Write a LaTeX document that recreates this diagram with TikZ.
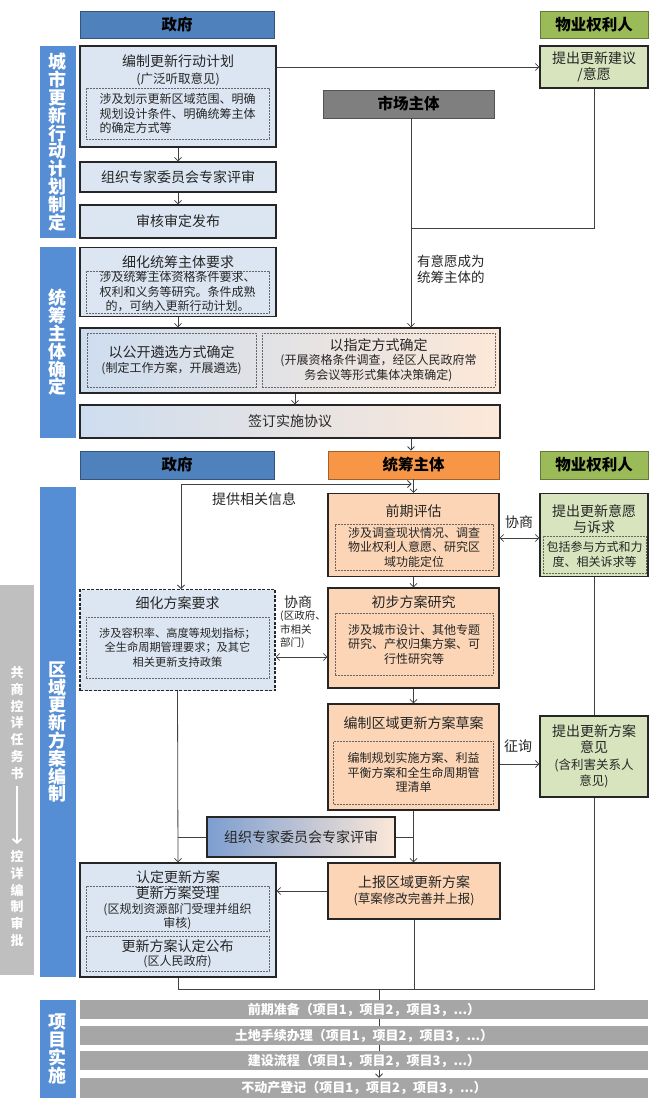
\documentclass[tikz,border=0pt]{standalone}
\usepackage{fontspec}
\setmainfont{Noto Sans CJK SC}
\usetikzlibrary{arrows.meta}

\definecolor{hdblue}{RGB}{79,129,189}
\definecolor{sideblue}{RGB}{85,142,213}
\definecolor{boxblue}{RGB}{220,230,242}
\definecolor{hdorange}{RGB}{247,150,70}
\definecolor{boxorange}{RGB}{251,213,181}
\definecolor{hdgreen}{RGB}{155,187,89}
\definecolor{boxgreen}{RGB}{216,228,190}
\definecolor{mkgray}{RGB}{127,127,127}
\definecolor{bargray}{RGB}{166,166,166}
\definecolor{stripgray}{RGB}{191,191,191}
\definecolor{lnc}{RGB}{64,64,64}
\definecolor{gradL}{RGB}{205,221,240}
\definecolor{gradB}{RGB}{125,158,208}
\definecolor{peach}{RGB}{252,232,216}

\newcommand{\fntHead}{\fontsize{15.5}{18}\selectfont\bfseries}
\newcommand{\fntSide}{\fontsize{18}{17.8}\selectfont\bfseries}
\newcommand{\fntTitle}{\fontsize{14}{16.5}\selectfont}
\newcommand{\fntSub}{\fontsize{12.5}{16.5}\selectfont}
\newcommand{\fntNote}{\fontsize{12}{14.5}\selectfont}
\newcommand{\fntSmall}{\fontsize{11.2}{14.5}\selectfont}
\newcommand{\fntStrip}{\fontsize{13}{16.7}\selectfont\bfseries}
\newcommand{\fntBar}{\fontsize{13}{15}\selectfont\bfseries}

\tikzset{
  hd/.style={draw=#1!65!black, fill=#1, line width=0.8pt, minimum height=27pt,
    inner sep=0pt, font=\fntHead, text=black},
  side/.style={fill=sideblue, text=white, minimum width=36pt, inner sep=0pt,
    align=center, font=\fntSide},
  flowbox/.style={draw=black!85, fill=#1, line width=1.2pt, inner sep=0pt,
    align=center, font=\fntTitle, text=black!85},
  note/.style={draw=black!60, dash pattern=on 2pt off 1pt, line width=0.7pt,
    inner sep=0pt, align=center, font=\fntNote, text=black!85},
  txt/.style={inner sep=0pt, align=center, font=\fntTitle, text=black!85},
  bar/.style={fill=bargray, text=white, minimum width=568pt, inner sep=0pt,
    font=\fntBar},
  link/.style={draw=lnc, line width=0.8pt},
}

\begin{document}
\begin{tikzpicture}[x=1pt, y=-1pt, >={Straight Barb[length=3.5pt, width=7pt]}]

\useasboundingbox (0,0) rectangle (656,1105);

% ---------- action plan ----------
\node[hd=hdblue, minimum width=194pt] (gov1) at (177,24.5) {政府};
\node[hd=hdgreen, minimum width=108pt] (own1) at (594,24.5) {物业权利人};
\node[side, minimum height=192pt] (sideA) at (57.5,142) {城\\市\\更\\新\\行\\动\\计\\划\\制\\定};

\node[flowbox=boxblue, minimum width=196pt, minimum height=101pt] (plan) at (178,96.5) {};
\node[txt] (planT) at (178,70.5) {编制更新行动计划\\{\fntSub (广泛听取意见)}};
\node[note, minimum width=183pt, minimum height=51pt, align=left] (planN) at (177.5,113.5)
  {涉及划示更新区域范围、明确\\规划设计条件、明确统筹主体\\的确定方式等};
\node[flowbox=boxblue, minimum width=196pt, minimum height=30pt] (review1) at (178,177) {组织专家委员会专家评审};
\node[flowbox=boxblue, minimum width=196pt, minimum height=33pt] (publish) at (178,221.5) {审核审定发布};

\node[flowbox=boxgreen, minimum width=108pt, minimum height=42pt] (ownA) at (594,67) {提出更新建议\\/意愿};
\node[hd=mkgray, minimum width=171pt, minimum height=28pt] (market) at (408.5,104) {市场主体};

\draw[link, ->] (ownA.west -| plan.east) -- (ownA.west);
\draw[link, ->] (plan.south) -- (review1.north);
\draw[link, ->] (review1.south) -- (publish.north);

% ---------- coordinating subject ----------
\node[side, minimum height=191pt] (sideB) at (57.5,342.5) {统\\筹\\主\\体\\确\\定};
\node[flowbox=boxblue, minimum width=196pt, minimum height=69pt] (refineA) at (178,282) {};
\node[txt] (refineT) at (178,262) {细化统筹主体要求};
\node[note, minimum width=183pt, minimum height=42pt] (refineN) at (177.5,292)
  {涉及统筹主体资格条件要求、\\权利和义务等研究。条件成熟\\的，可纳入更新行动计划。};

\node[flowbox=boxblue, left color=gradL, right color=peach, minimum width=420pt, minimum height=65pt] (choose) at (290,360.5) {};
\node[note, minimum width=169pt, minimum height=54pt] (chooseL) at (171.5,360)
  {{\fntTitle 以公开遴选方式确定}\\(制定工作方案，开展遴选)};
\node[note, minimum width=233pt, minimum height=54pt] (chooseR) at (378.5,360)
  {{\fntTitle 以指定方式确定}\\(开展资格条件调查，经区人民政府常\\务会议等形式集体决策确定)};
\node[flowbox=boxblue, left color=gradL, right color=peach, minimum width=420pt, minimum height=33pt] (sign) at (290,421.5) {签订实施协议};

\coordinate (wishJ) at (411,228);
\coordinate (chooseX) at (295,0);
\draw[link, ->] (market.south -| wishJ) -- (choose.north -| wishJ);
\draw[link] (ownA.south) |- (wishJ);
\node[txt, anchor=west, align=left, font=\fontsize{13.5}{16}\selectfont] (wishL) at (417,269) {有意愿成为\\统筹主体的};
\draw[link, ->] (refineA.south) -- (refineA.south |- choose.north);
\draw[link, ->] (choose.south -| chooseX) -- (sign.north -| chooseX);

% ---------- area scheme ----------
\node[hd=hdblue, minimum width=194pt, minimum height=28pt] (gov2) at (177,465) {政府};
\node[hd=hdorange, minimum width=171pt, minimum height=28pt] (coord) at (413.5,465) {统筹主体};
\node[hd=hdgreen, minimum width=108pt, minimum height=28pt] (own2) at (594,465) {物业权利人};
\draw[link, ->] (sign.south -| wishJ) -- (coord.north -| wishJ);

\node[side, minimum height=490pt] (sideC) at (57.5,732) {区\\域\\更\\新\\方\\案\\编\\制};
\node[fill=stripgray, minimum width=34pt, minimum height=390pt, inner sep=0pt] (strip) at (17,780) {};
\node[txt, text=white, font=\fntStrip] (stripT) at (17,723) {共\\商\\控\\详\\任\\务\\书};
\node[txt, text=white, font=\fntStrip] (stripB) at (17,898.5) {控\\详\\编\\制\\审\\批};
\coordinate (stripA) at (17,786);
\coordinate (stripZ) at (17,844);
\draw[white, line width=1.8pt, -{Straight Barb[length=4pt, width=9pt]}] (stripA) -- (stripZ);

\node[flowbox=boxorange, minimum width=171pt, minimum height=83pt] (qianqi) at (413.5,535) {};
\node[txt] (qianqiT) at (413.5,511) {前期评估};
\node[note, minimum width=158pt, minimum height=46pt] (qianqiN) at (414,547)
  {涉及调查现状情况、调查\\物业权利人意愿、研究区\\域功能定位};

\node[flowbox=boxgreen, minimum width=108pt, minimum height=83pt] (ownB) at (594,535) {};
\node[txt] (ownBT) at (594,519) {提出更新意愿\\与诉求};
\node[note, minimum width=103pt, minimum height=37pt] (ownBN) at (594.5,554.5) {包括参与方式和力\\度、相关诉求等};

\coordinate (info) at (181,484);
\coordinate (talk1) at (0,538);
\draw[link, ->, shorten >=2pt] (info) -- (info -| coord);
\draw[link, ->] (info) -- (info |- 0,589);
\node[txt] (infoL) at (254,499) {提供相关信息};
\draw[link, ->] (coord.south) -- (qianqi.north);
\draw[link, <->] (qianqi.east |- talk1) -- (ownB.west |- talk1);
\node[txt] (talk1L) at (519,522) {协商};

\node[flowbox=boxorange, minimum width=171pt, minimum height=100pt] (chubu) at (413.5,638) {};
\node[txt] (chubuT) at (413.5,602) {初步方案研究};
\node[note, minimum width=158pt, minimum height=62pt] (chubuN) at (414,644)
  {涉及城市设计、其他专题\\研究、产权归集方案、可\\行性研究等};

\node[flowbox=boxblue, dash pattern=on 3pt off 1.5pt, minimum width=195pt, minimum height=101pt] (xihua) at (177.5,640) {};
\node[txt] (xihuaT) at (177.5,603) {细化方案要求};
\node[note, font=\fntSmall, minimum width=183pt, minimum height=61pt] (xihuaN) at (177.5,647.5)
  {涉及容积率、高度等规划指标；\\全生命周期管理要求；及其它\\相关更新支持政策};

\coordinate (talk2) at (0,657);
\draw[link, <->] (xihua.east |- talk2) -- (chubu.west |- talk2);
\node[txt] (talk2L) at (298,602) {协商};
\node[txt, anchor=west, align=left, font=\fontsize{10.5}{13.5}\selectfont] (talk2S) at (280,630) {(区政府、\\市相关\\部门)};
\draw[link, ->] (qianqi.south) -- (chubu.north);

\node[flowbox=boxorange, minimum width=171pt, minimum height=106pt] (draft) at (413.5,757) {};
\node[txt] (draftT) at (413.5,723) {编制区域更新方案草案};
\node[note, minimum width=160pt, minimum height=63pt] (draftN) at (413.5,772.5)
  {编制规划实施方案、利益\\平衡方案和全生命周期管\\理清单};
\draw[link, ->] (chubu.south) -- (draft.north);

\node[flowbox=boxgreen, minimum width=108pt, minimum height=81pt] (ownC) at (594,756.5)
  {提出更新方案\\意见\\{\fntSub (含利害关系人}\\{\fntSub 意见)}};
\coordinate (ask) at (0,764);
\draw[link, ->] (draft.east |- ask) -- (ownC.west |- ask);
\node[txt] (askL) at (518,746) {征询};
\draw[link] (ownB.south) -- (ownC.north);

\node[flowbox=boxblue, left color=gradB, right color=peach, minimum width=188pt, minimum height=40pt] (review2) at (301,837) {组织专家委员会专家评审};

\node[flowbox=boxblue, minimum width=196pt, minimum height=114pt] (rending) at (178,920) {};
\node[txt] (rendingT) at (178,877) {认定更新方案};
\node[note, minimum width=183pt, minimum height=45pt] (rendingN1) at (177.5,908.5)
  {{\fntTitle 更新方案受理}\\(区规划资源部门受理并组织\\审核)};
\node[note, minimum width=183pt, minimum height=35pt] (rendingN2) at (177.5,953.5)
  {{\fntTitle 更新方案认定公布}\\(区人民政府)};

\node[flowbox=boxorange, minimum width=172pt, minimum height=56pt] (report) at (414,891)
  {上报区域更新方案\\{\fntSub (草案修改完善并上报)}};

\draw[link, ->] (xihua.south) -- (rending.north);
\draw[link] (review2.west) -- (review2.west -| xihua.south);
\draw[link, ->] (draft.south) -- (draft.south |- report.north);
\draw[link] (review2.east) -- (review2.east -| draft.south);
\draw[link, ->] (report.west) -- (report.west -| rending.east);

% ---------- implementation ----------
\node[side, minimum height=98pt] (sideD) at (57.5,1049) {项\\目\\实\\施};
\node[bar, minimum height=19pt] (bar1) at (364,1009.5) {前期准备（项目1，项目2，项目3，...）};
\node[bar, minimum height=19pt] (bar2) at (364,1035.5) {土地手续办理（项目1，项目2，项目3，...）};
\node[bar, minimum height=19pt] (bar3) at (364,1060.5) {建设流程（项目1，项目2，项目3，...）};
\node[bar, minimum height=20pt] (bar4) at (364,1088) {不动产登记（项目1，项目2，项目3，...）};

\coordinate (merge) at (379,989);
\draw[link] (rending.south) |- (ownC.south |- merge) -- (ownC.south);
\draw[link] (report.south) -- (report.south |- merge);
\draw[link] (merge) -- (merge |- bar1.north);
\draw[link] (bar1.south -| merge) -- (bar2.north -| merge);
\draw[link] (bar2.south -| merge) -- (bar3.north -| merge);
\draw[link, ->] (bar3.south -| merge) -- (bar4.north -| merge);

\end{tikzpicture}
\end{document}
